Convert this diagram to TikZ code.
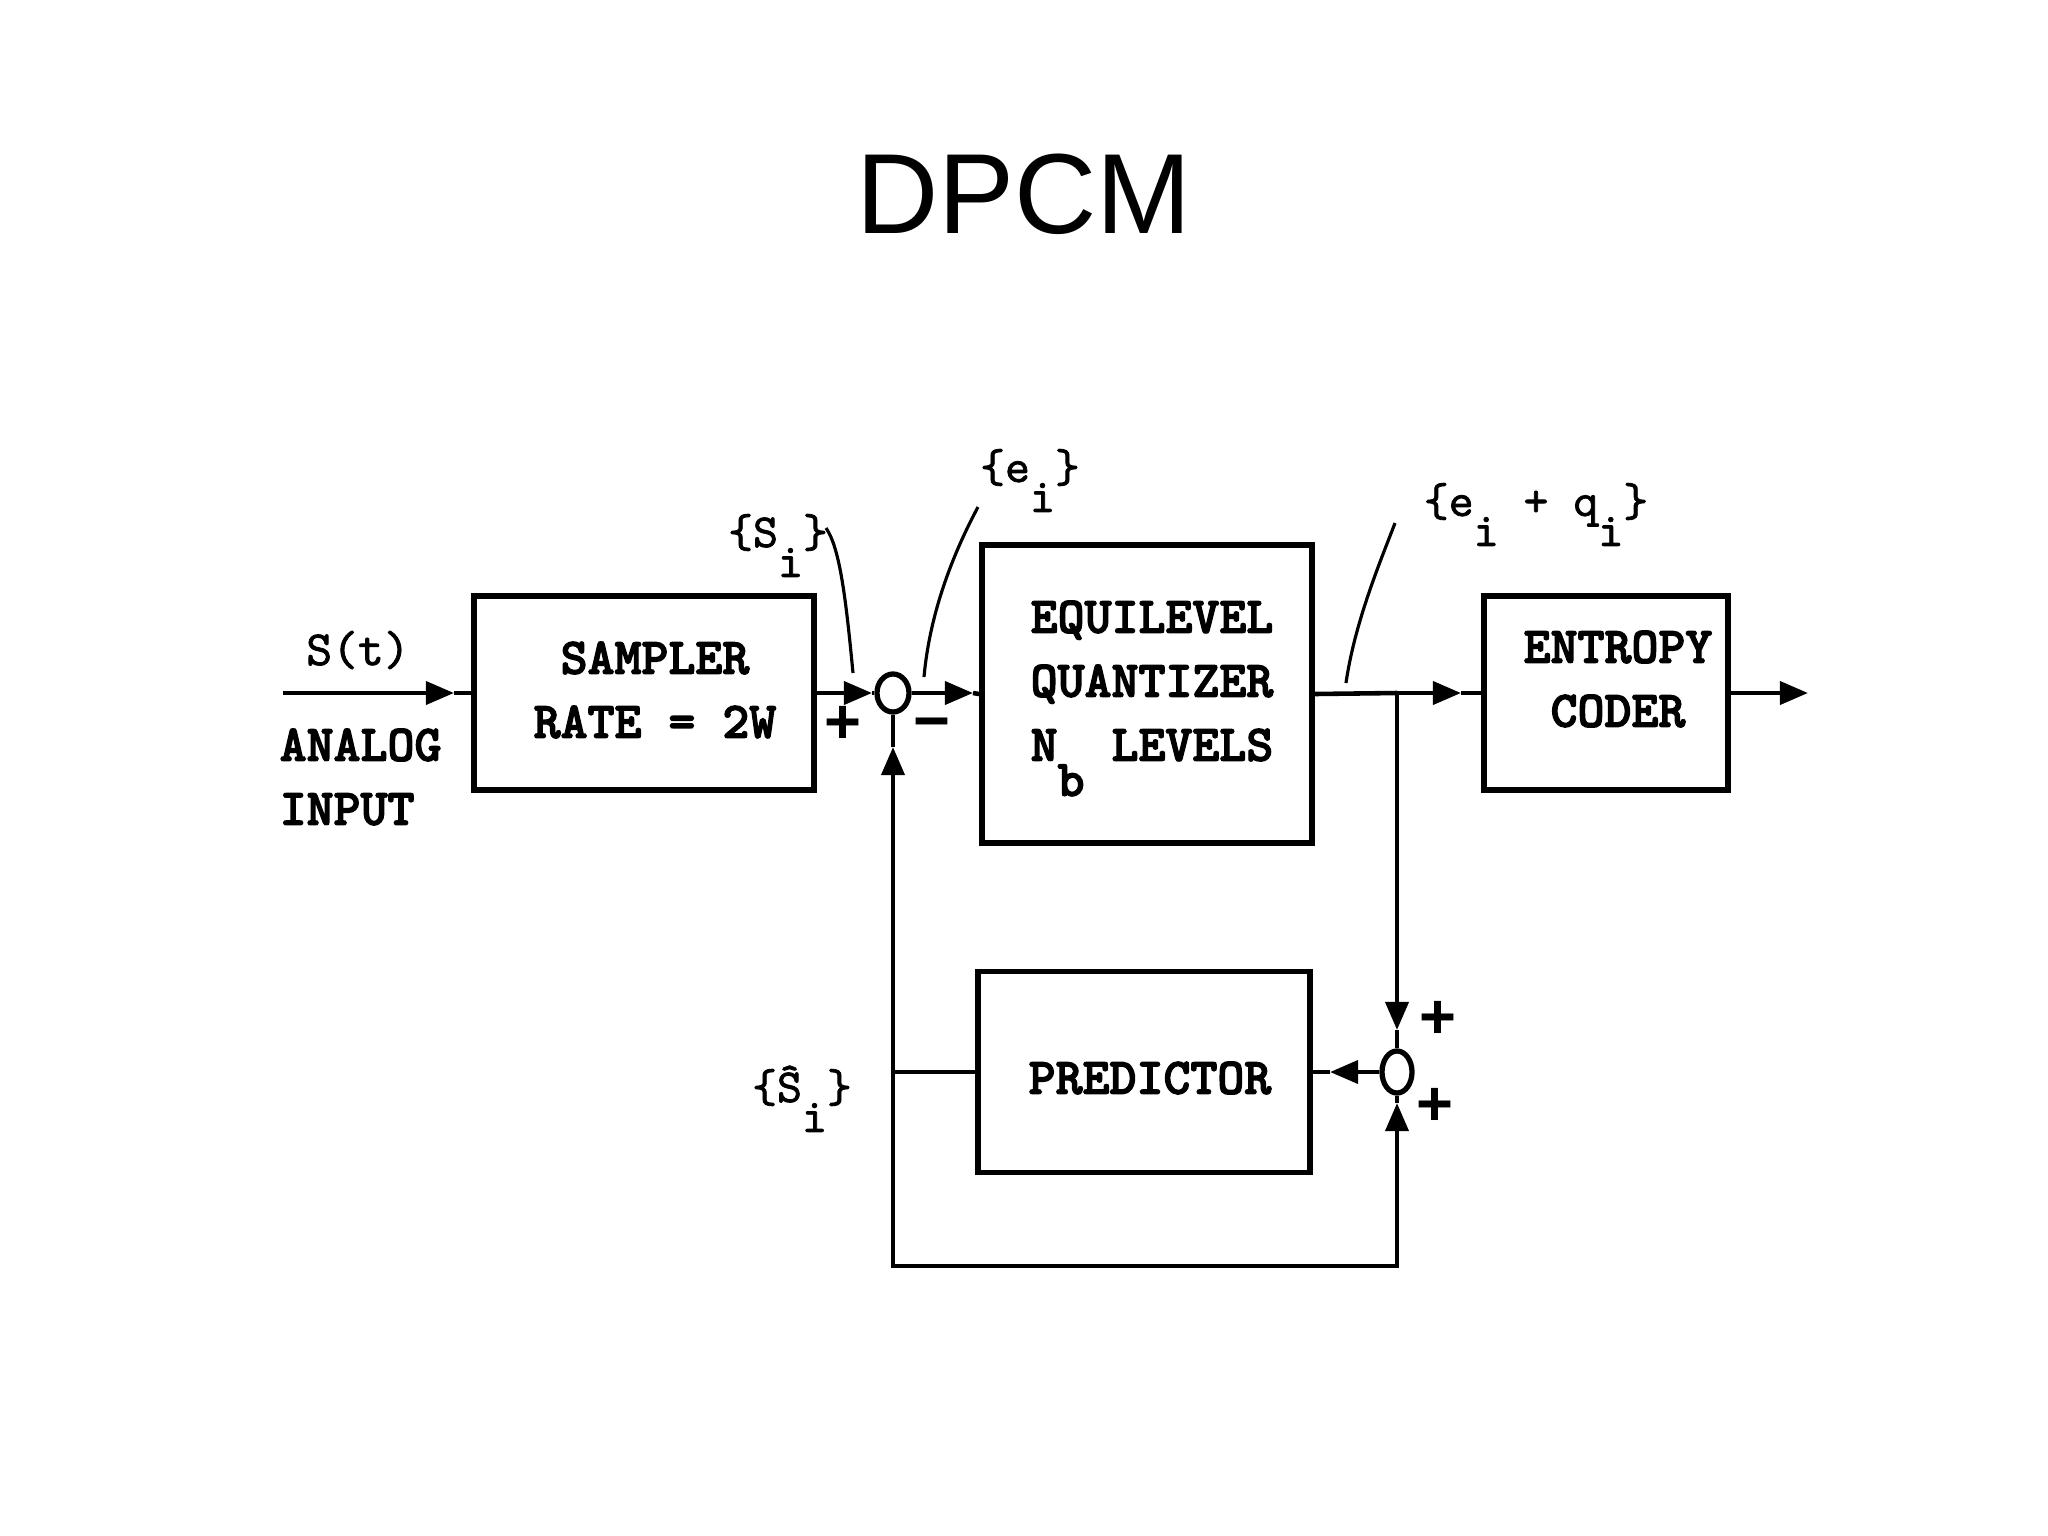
\documentclass[tikz,border=0pt]{standalone}
\usepackage{graphicx}
\usepackage{fontspec}
\setmainfont{Liberation Sans}
\newfontfamily\twb{lmmonolt10-bold.otf}[FakeBold=2.5]
\newfontfamily\twr{lmmono10-regular.otf}[FakeBold=1.5]
\usetikzlibrary{arrows.meta,shapes.geometric}
\newcommand{\dnsub}[1]{\raisebox{-8.5pt}[0pt][0pt]{#1}}
\newcommand{\dnb}[1]{\raisebox{-10pt}[0pt][0pt]{#1}}
\tikzset{
  blk/.style={draw, line width=1.6pt, inner sep=0pt},
  sig/.style={line width=1.3pt},
  lead/.style={line width=0.9pt},
  sumnode/.style={draw, ellipse, line width=1.5pt, inner sep=0pt},
  arr/.style={-{Triangle[length=8pt,width=6.5pt]}},
  boxtext/.style={font=\twb\fontsize{14.6}{18.2}\selectfont, align=center, inner sep=0pt},
  lbl/.style={font=\twr\fontsize{13.5}{15}\selectfont, inner sep=0pt},
  pm/.style={font=\bfseries\fontsize{18}{20}\selectfont, inner sep=0pt}
}
\begin{document}
\begin{tikzpicture}[x=0.01cm,y=-0.01cm]
\fill[white] (0,0) rectangle (2048,1536);
\useasboundingbox (0,0) rectangle (2048,1536);

\node[font=\fontsize{32.4}{38}\selectfont, inner sep=0pt] (title) at (1024,194) {DPCM};

% blocks
\node[blk, minimum width=3.4cm, minimum height=1.94cm] (smp) at (644,693) {};
\node[blk, minimum width=3.3cm, minimum height=2.98cm] (quant) at (1147,694) {};
\node[blk, minimum width=2.44cm, minimum height=1.94cm] (ent) at (1606,693) {};
\node[blk, minimum width=3.32cm, minimum height=2.01cm] (pred) at (1144,1072) {};

% summing junctions
\node[sumnode, minimum width=0.32cm, minimum height=0.38cm] (sum1) at (893,693) {};
\node[sumnode, minimum width=0.30cm, minimum height=0.42cm] (sum2) at (1397,1072) {};

% block texts
\node[boxtext] (tsmp) at (655,690) {SAMPLER\\RATE = 2W};
\node[boxtext] (tq) at (1152,681) {EQUILEVEL\\QUANTIZER\\N\dnb{b} LEVELS};
\node[boxtext] (tent) at (1618,679) {ENTROPY\\CODER};
\node[boxtext] (tpred) at (1150,1078) {PREDICTOR};
\node[boxtext, align=left, anchor=west] (tin) at (279,777) {ANALOG\\INPUT};

% signal labels
\node[lbl, font=\twr\fontsize{14}{16}\selectfont] (ts) at (358,650) {S(t)};
\node[lbl, anchor=base] (lsi) at (778,547) {\{S\dnsub{i}\}};
\node[lbl, anchor=base] (lei) at (1030,482) {\{e\dnsub{i}\}};
\node[lbl, anchor=base] (leq) at (1536,516) {\{e\dnsub{i} + q\dnsub{i}\}};
\node[lbl, anchor=base] (lsh) at (802,1102) {\{Ŝ\dnsub{i}\}};

% signs
\node[pm] (p1) at (843,725) {+};
\node[pm] (m1) at (932,724) {\vphantom{+}−};
\node[pm] (p2) at (1438,1020) {+};
\node[pm] (p3) at (1435,1107) {+};

% coordinates
\coordinate (in0) at (283,693);
\coordinate (tA) at (454,693);
\coordinate (tB) at (872,693);
\coordinate (tD) at (973,693);
\coordinate (jn) at (1397,693);
\coordinate (tC) at (1461,693);
\coordinate (out) at (1808,693);
\coordinate (tE) at (1397,1030);
\coordinate (tF) at (1330,1072);
\coordinate (fb) at (893,1072);
\coordinate (tH) at (893,747);
\coordinate (bl) at (893,1266);
\coordinate (br) at (1397,1266);
\coordinate (tG) at (1397,1103);

% forward path
\draw[sig,arr] (in0) -- (tA);
\draw[sig] (tA) -- (smp.west);
\draw[sig,arr] (smp.east) -- (tB);
\draw[sig] (tB) -- (sum1.west);
\draw[sig,arr] (sum1.east) -- (tD);
\draw[sig] (tD) -- (quant.west);
\draw[sig] (quant.east) -- (jn);
\draw[sig,arr] (jn) -- (tC);
\draw[sig] (tC) -- (ent.west);
\draw[sig,arr] (ent.east) -- (out);

% feedback path
\draw[sig,arr] (jn) -- (tE);
\draw[sig] (tE) -- (sum2.north);
\draw[sig,arr] (sum2.west) -- (tF);
\draw[sig] (tF) -- (pred.east);
\draw[sig] (pred.west) -- (fb);
\draw[sig,{Triangle[length=8pt,width=6.5pt]}-{Triangle[length=8pt,width=6.5pt]}] (tH) -- (bl) -- (br) -- (tG);
\draw[sig] (tH) -- (sum1.south);
\draw[sig] (tG) -- (sum2.south);

% leader lines
\coordinate (ls1) at (826,528);
\coordinate (ls2) at (853,673);
\draw[lead] (ls1) .. controls (840,548) and (846,600) .. (ls2);
\coordinate (le1) at (978,507);
\coordinate (le2) at (924,677);
\draw[lead] (le1) .. controls (955,550) and (930,610) .. (le2);
\coordinate (lq1) at (1395,523);
\coordinate (lq2) at (1346,683);
\draw[lead] (lq1) .. controls (1383,555) and (1355,620) .. (lq2);
\end{tikzpicture}
\end{document}
